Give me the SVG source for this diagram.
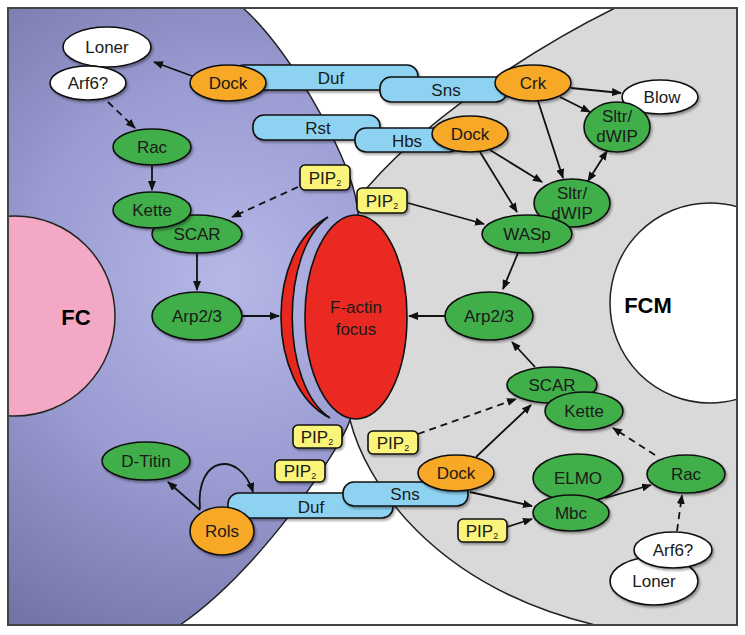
<svg xmlns="http://www.w3.org/2000/svg" width="745" height="635" viewBox="0 0 745 635">
<defs>
  <radialGradient id="purp" cx="230" cy="280" r="400" gradientUnits="userSpaceOnUse">
    <stop offset="0" stop-color="#b6b8e7"/>
    <stop offset="0.5" stop-color="#9a9cd2"/>
    <stop offset="1" stop-color="#7374a6"/>
  </radialGradient>
  <clipPath id="frame"><rect x="8" y="8" width="729" height="617"/></clipPath>
  <filter id="sh" x="-20%" y="-20%" width="150%" height="160%">
    <feDropShadow dx="1.5" dy="2" stdDeviation="1.3" flood-color="#000" flood-opacity="0.35"/>
  </filter>
  <marker id="ah" viewBox="0 0 10 8" refX="9" refY="4" markerWidth="10" markerHeight="8" markerUnits="userSpaceOnUse" orient="auto-start-reverse">
    <path d="M0,0 L10,4 L0,8 Z" fill="#111"/>
  </marker>
  <style>
    .n { stroke: #111; stroke-width: 1.6; filter: url(#sh); }
    .g { fill: #3fae49; }
    .o { fill: #f6a828; }
    .w { fill: #ffffff; }
    .b { fill: #8dd3f1; }
    .y { fill: #fbf47a; }
    text { font-family: "Liberation Sans", Arial, sans-serif; font-size: 17px; fill: #1a1a1a; text-anchor: middle; }
    .big { font-size: 22px; font-weight: bold; fill: #000; }
    .sub { font-size: 9px; }
    .c { fill: none; stroke: #111; stroke-width: 1.8; marker-end: url(#ah); }
    .d { stroke-dasharray: 7,5; }
  </style>
</defs>

<rect x="0" y="0" width="745" height="635" fill="#ffffff"/>

<g id="background" clip-path="url(#frame)">
  <path d="M615,8 C540,45 420,120 357,200 C330,240 330,380 350,420 C365,480 430,585 595,625 L740,625 L740,8 Z" fill="#d9d9d9" stroke="#222" stroke-width="1.5"/>
  <circle cx="710" cy="303" r="100" fill="#ffffff" stroke="#222" stroke-width="1.5"/>
  <path d="M243,8 C290,50 345,150 355,195 C366,245 366,370 350,420 C340,450 260,570 180,625 L7,625 L7,8 Z" fill="url(#purp)" stroke="#222" stroke-width="1.5"/>
  <circle cx="15" cy="316" r="100" fill="#f3a9c5" stroke="#222" stroke-width="1.5"/>
</g>
<rect x="8" y="8" width="729" height="617" fill="none" stroke="#444" stroke-width="2"/>

<g id="FC"><text class="big" x="76" y="325">FC</text></g>
<g id="FCM"><text class="big" x="648" y="313">FCM</text></g>

<g id="crescent">
  <path d="M328,217 C265,250 265,385 330,418 C280,385 280,252 328,217 Z" fill="#e8281f" stroke="#111" stroke-width="1.6"/>
</g>
<g id="factin">
  <ellipse cx="356" cy="317" rx="51" ry="102" fill="#ea2a22" stroke="#111" stroke-width="1.6"/>
  <text x="356" y="313">F-actin</text>
  <text x="356" y="335">focus</text>
</g>

<g id="duf-top"><rect class="n b" x="233" y="65" width="185" height="25" rx="11"/><text x="331" y="84">Duf</text></g>
<g id="sns-top"><rect class="n b" x="380" y="77" width="127" height="25" rx="11"/><text x="446" y="96">Sns</text></g>
<g id="rst"><rect class="n b" x="253" y="115" width="127" height="25" rx="11"/><text x="318" y="134">Rst</text></g>
<g id="hbs"><rect class="n b" x="355" y="128" width="105" height="24" rx="11"/><text x="407" y="147">Hbs</text></g>

<g id="loner-fc"><ellipse class="n w" cx="107" cy="47" rx="44" ry="20"/><text x="107" y="53">Loner</text></g>
<g id="arf6-fc"><ellipse class="n w" cx="88" cy="83" rx="38" ry="17"/><text x="88" y="89">Arf6?</text></g>
<g id="dock-fc"><ellipse class="n o" cx="228" cy="83" rx="38" ry="18"/><text x="228" y="89">Dock</text></g>
<g id="crk"><ellipse class="n o" cx="533" cy="83" rx="38" ry="18"/><text x="533" y="89">Crk</text></g>
<g id="blow"><ellipse class="n w" cx="660" cy="97" rx="38" ry="17"/><text x="662" y="103">Blow</text></g>
<g id="sltr1"><ellipse class="n g" cx="617" cy="127" rx="33" ry="25"/><text x="617" y="122">Sltr/</text><text x="617" y="142">dWIP</text></g>
<g id="dock-fcm1"><ellipse class="n o" cx="470" cy="134" rx="38" ry="18"/><text x="470" y="140">Dock</text></g>
<g id="sltr2"><ellipse class="n g" cx="572" cy="203" rx="38" ry="24"/><text x="572" y="199">Sltr/</text><text x="572" y="219">dWIP</text></g>
<g id="wasp"><ellipse class="n g" cx="527" cy="234" rx="45" ry="19"/><text x="527" y="240">WASp</text></g>

<g id="rac-fc"><ellipse class="n g" cx="152" cy="147" rx="39" ry="18"/><text x="152" y="153">Rac</text></g>
<g id="scar-fc"><ellipse class="n g" cx="197" cy="234" rx="45" ry="19"/><text x="197" y="240">SCAR</text></g>
<g id="kette-fc"><ellipse class="n g" cx="152" cy="210" rx="39" ry="18"/><text x="152" y="216">Kette</text></g>
<g id="arp-fc"><ellipse class="n g" cx="197" cy="316" rx="45" ry="24"/><text x="197" y="322">Arp2/3</text></g>
<g id="arp-fcm"><ellipse class="n g" cx="489" cy="316" rx="44" ry="24"/><text x="489" y="322">Arp2/3</text></g>
<g id="scar-fcm"><ellipse class="n g" cx="552" cy="385" rx="45" ry="18"/><text x="552" y="391">SCAR</text></g>
<g id="kette-fcm"><ellipse class="n g" cx="584" cy="411" rx="39" ry="19"/><text x="584" y="417">Kette</text></g>

<g id="pip2-1"><rect class="n y" x="300" y="165" width="50" height="25" rx="5"/><text x="325" y="184">PIP<tspan class="sub" dy="2">2</tspan></text></g>
<g id="pip2-2"><rect class="n y" x="357" y="188" width="50" height="25" rx="5"/><text x="382" y="207">PIP<tspan class="sub" dy="2">2</tspan></text></g>
<g id="pip2-3"><rect class="n y" x="293" y="425" width="49" height="23" rx="5"/><text x="317" y="443">PIP<tspan class="sub" dy="2">2</tspan></text></g>
<g id="pip2-4"><rect class="n y" x="275" y="460" width="50" height="22" rx="5"/><text x="300" y="477">PIP<tspan class="sub" dy="2">2</tspan></text></g>
<g id="pip2-5"><rect class="n y" x="368" y="431" width="50" height="23" rx="5"/><text x="393" y="449">PIP<tspan class="sub" dy="2">2</tspan></text></g>
<g id="pip2-6"><rect class="n y" x="458" y="519" width="49" height="23" rx="5"/><text x="482" y="537">PIP<tspan class="sub" dy="2">2</tspan></text></g>

<g id="duf-bottom"><rect class="n b" x="228" y="493" width="165" height="25" rx="11"/><text x="311" y="513">Duf</text></g>
<g id="sns-bottom"><rect class="n b" x="343" y="482" width="125" height="24" rx="11"/><text x="405" y="500">Sns</text></g>
<g id="dtitin"><ellipse class="n g" cx="146" cy="461" rx="44" ry="19"/><text x="146" y="467">D-Titin</text></g>
<g id="rols"><ellipse class="n o" cx="222" cy="531" rx="32" ry="24"/><text x="222" y="537">Rols</text></g>
<g id="dock-fcm2"><ellipse class="n o" cx="456" cy="473" rx="38" ry="18"/><text x="456" y="479">Dock</text></g>
<g id="elmo"><ellipse class="n g" cx="578" cy="478" rx="45" ry="24"/><text x="578" y="484">ELMO</text></g>
<g id="mbc"><ellipse class="n g" cx="571" cy="513" rx="38" ry="18"/><text x="571" y="519">Mbc</text></g>
<g id="rac-fcm"><ellipse class="n g" cx="686" cy="474" rx="39" ry="19"/><text x="686" y="480">Rac</text></g>
<g id="loner-fcm"><ellipse class="n w" cx="654" cy="581" rx="44" ry="24"/><text x="654" y="587">Loner</text></g>
<g id="arf6-fcm"><ellipse class="n w" cx="673" cy="550" rx="39" ry="18"/><text x="673" y="556">Arf6?</text></g>

<g id="connectors">
  <path class="c" d="M192,76 L154,62"/>
  <path class="c d" d="M108,102 L135,128"/>
  <path class="c" d="M152,165 L152,190"/>
  <path class="c d" d="M298,187 L232,217"/>
  <path class="c" d="M197,253 L197,290"/>
  <path class="c" d="M242,316 L279,316"/>
  <path class="c" d="M571,88 L621,93"/>
  <path class="c" d="M560,97 L590,112"/>
  <path class="c" d="M538,101 L563,178"/>
  <path class="c" d="M607,151 L588,181" style="marker-start:url(#ah)"/>
  <path class="c" d="M490,150 L542,182"/>
  <path class="c" d="M480,152 L517,212"/>
  <path class="c" d="M408,203 L484,224"/>
  <path class="c" d="M518,253 L503,289"/>
  <path class="c" d="M445,316 L409,316"/>
  <path class="c" d="M535,367 L512,342"/>
  <path class="c d" d="M418,434 L516,399"/>
  <path class="c" d="M476,457 L531,405"/>
  <path class="c d" d="M655,455 L613,428"/>
  <path class="c" d="M470,492 L532,506"/>
  <path class="c" d="M507,527 L532,519"/>
  <path class="c" d="M605,498 L651,485"/>
  <path class="c d" d="M677,531 L682,495"/>
  <path class="c" d="M200,510 L168,482"/>
  <path class="c" d="M200,509 C195,455 240,450 253,492"/>
</g>
</svg>
